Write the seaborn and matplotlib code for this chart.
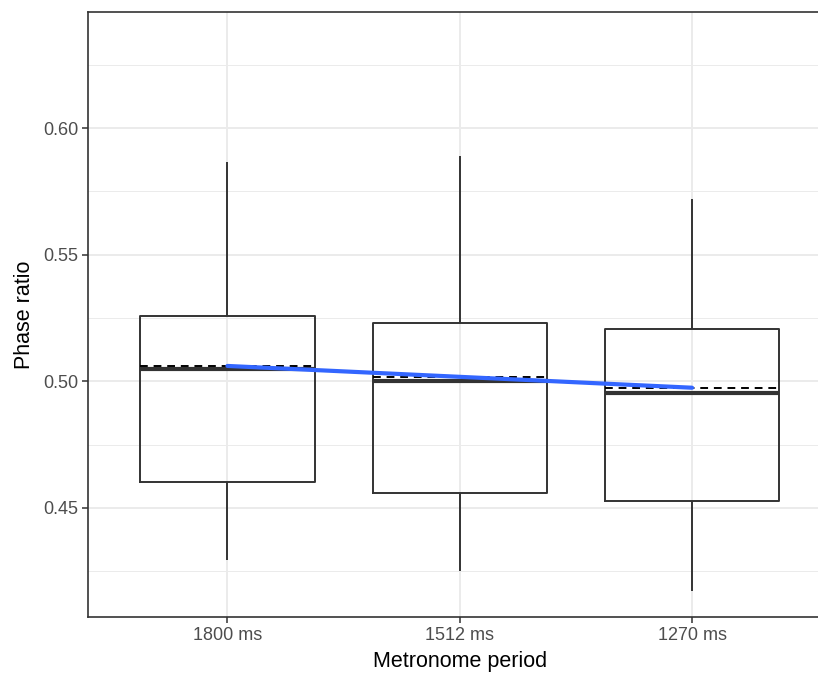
import numpy as np
import pandas as pd
import matplotlib
matplotlib.use("Agg")
import matplotlib.pyplot as plt
import seaborn as sns
from matplotlib.ticker import FixedLocator

# ---- data ----
periods = ["1800 ms", "1512 ms", "1270 ms"]
whisker_low = [0.4296, 0.4250, 0.4174]
q1 = [0.4603, 0.4559, 0.4527]
medians = [0.5047, 0.5001, 0.4953]
q3 = [0.5257, 0.5230, 0.5207]
whisker_high = [0.5866, 0.5891, 0.5720]
means = [0.5061, 0.5017, 0.4975]
y_ticks = [0.45, 0.50, 0.55, 0.60]
y_minor = [0.425, 0.475, 0.525, 0.575, 0.625]

# five-number summaries -> long table for seaborn's boxplot
rows = []
for p, a, b, c, d, e in zip(periods, whisker_low, q1, medians, q3, whisker_high):
    for v in (a, b, c, d, e):
        rows.append({"period": p, "ratio": v})
df = pd.DataFrame(rows)

sns.set_theme(style="white")
plt.rcParams["font.family"] = ["Liberation Sans", "DejaVu Sans"]

W, H = 818, 675
fig = plt.figure(figsize=(W / 100, H / 100), dpi=100)
left_px, right_px, top_px, bot_px = 88, 831.5, 12, 617
ax = fig.add_axes([left_px / W, (H - bot_px) / H,
                   (right_px - left_px) / W, (bot_px - top_px) / H])

dark = "#333333"
box_w = 0.75
sns.boxplot(data=df, x="period", y="ratio", order=periods, whis=np.inf,
            width=box_w, fill=False, color=dark, linewidth=1.4,
            showcaps=False, medianprops={"linewidth": 3.0, "color": dark},
            ax=ax, zorder=3)

pos = np.arange(len(periods))
ax.hlines(means, pos - box_w / 2, pos + box_w / 2, colors="black",
          linestyles=(0, (4, 3)), linewidth=1.4, zorder=4)

sns.regplot(x=pos.astype(float), y=np.array(means), scatter=False, ci=None,
            color="#3366FF", line_kws={"linewidth": 3.0, "zorder": 5}, ax=ax)

ax.set_xlim(-0.6, 2.6)
ax.set_ylim(0.40695, 0.6458)
ax.set_xticks(pos)
ax.set_xticklabels(periods)
ax.yaxis.set_major_locator(FixedLocator(y_ticks))
ax.yaxis.set_minor_locator(FixedLocator(y_minor))
ax.set_yticklabels([f"{t:.2f}" for t in y_ticks])

ax.grid(True, which="major", color="#EBEBEB", linewidth=1.4, zorder=0)
ax.grid(True, which="minor", axis="y", color="#EBEBEB", linewidth=0.7, zorder=0)
ax.set_axisbelow(True)

for s in ax.spines.values():
    s.set_visible(True)
    s.set_color(dark)
    s.set_linewidth(1.2)

ax.tick_params(axis="both", which="major", length=4, width=1.1, color=dark,
               labelsize=13, labelcolor="#4D4D4D", pad=3, direction="out",
               bottom=True, left=True)
ax.tick_params(axis="y", which="minor", length=0)

ax.set_xlabel("Metronome period", fontsize=15.5, color="black", labelpad=5)
ax.set_ylabel("Phase ratio", fontsize=15.5, color="black", labelpad=6)

fig.savefig("out.png", dpi=100)
